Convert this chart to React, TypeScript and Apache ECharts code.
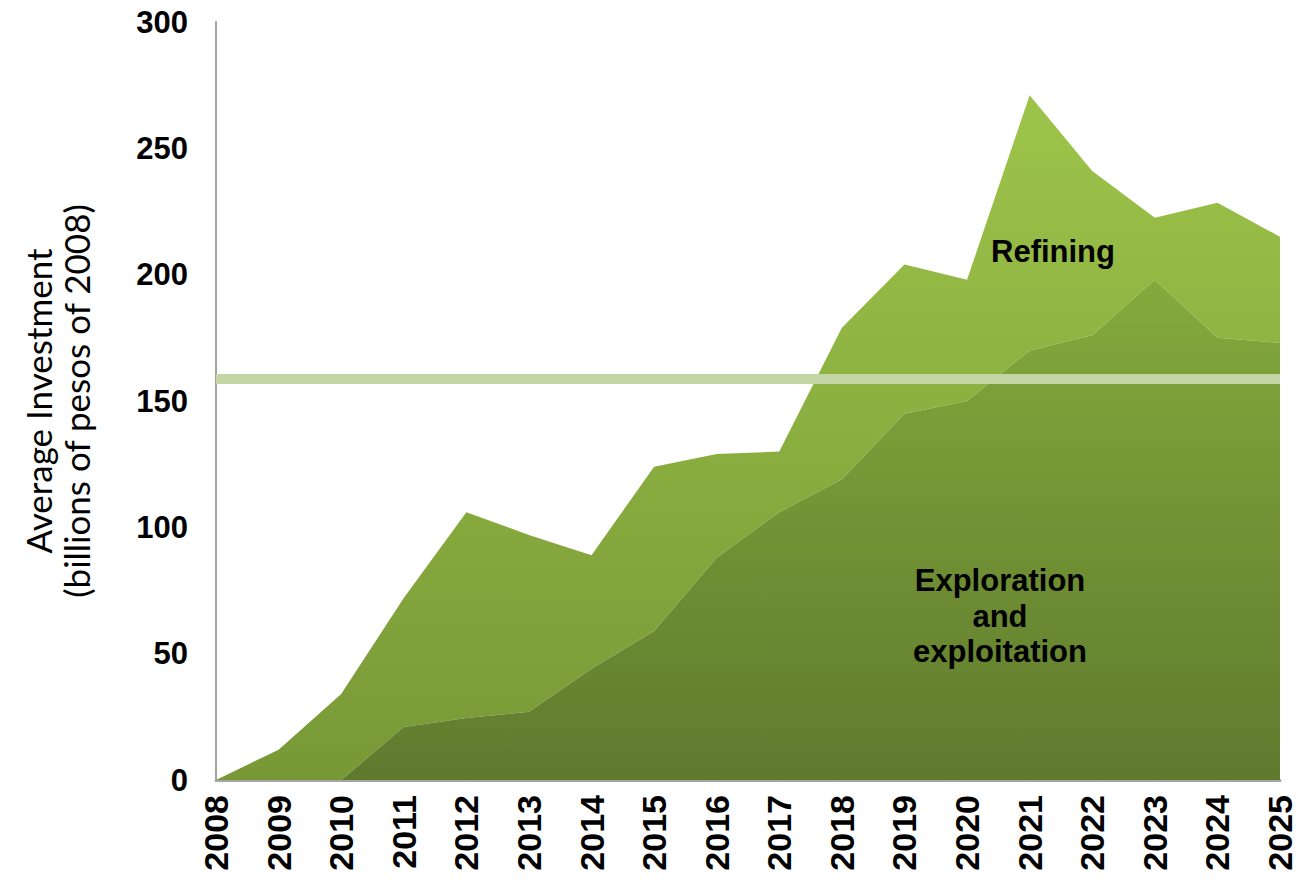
import React, { useEffect, useRef } from "react";
import * as echarts from "echarts";

const years = ["2008","2009","2010","2011","2012","2013","2014","2015","2016","2017","2018","2019","2020","2021","2022","2023","2024","2025"];
const explorationValues = [0, 0, 0, 21, 24.5, 27, 44, 59, 88, 106, 119, 145, 150, 170, 176, 198, 175, 173];
const refiningValues = [0, 12, 34, 51, 81.5, 70, 45, 65, 41, 24, 60, 59, 48, 101, 65, 24.5, 53.5, 42];
const averageInvestment = 159;
const yTicks = { min: 0, max: 300, interval: 50 };

const labelFont = '"Liberation Sans", Arial, sans-serif';

export default function App() {
  const ref = useRef<HTMLDivElement>(null);
  useEffect(() => {
    if (!ref.current) return;
    const chart = echarts.init(ref.current, null, { renderer: "svg" });
    chart.setOption({
      animation: false,
      backgroundColor: "#ffffff",
      grid: { left: 216, top: 22, width: 1064, height: 758, containLabel: false },
      xAxis: {
        type: "category",
        data: years,
        boundaryGap: false,
        axisLine: { show: true, lineStyle: { color: "#a6a6a6", width: 3 } },
        axisTick: { show: false },
        axisLabel: {
          interval: 0,
          rotate: 90,
          margin: 15,
          color: "#000",
          fontFamily: labelFont,
          fontWeight: "bold",
          fontSize: 34,
        },
        splitLine: { show: false },
      },
      yAxis: {
        type: "value",
        min: yTicks.min,
        max: yTicks.max,
        interval: yTicks.interval,
        name: "Average Investment\n(billions of pesos of 2008)",
        nameLocation: "middle",
        nameRotate: 90,
        nameGap: 121,
        nameTextStyle: {
          fontFamily: "Lato, 'Open Sans', sans-serif",
          fontSize: 35,
          lineHeight: 38,
          color: "#000",
        },
        axisLine: { show: true, lineStyle: { color: "#a0a0a0", width: 2 } },
        axisTick: { show: false },
        splitLine: { show: false },
        axisLabel: {
          margin: 28,
          color: "#000",
          fontFamily: labelFont,
          fontWeight: "bold",
          fontSize: 31,
        },
      },
      series: [
        {
          name: "Exploration and exploitation",
          type: "line",
          stack: "investment",
          data: explorationValues,
          symbol: "none",
          lineStyle: { width: 0 },
          areaStyle: {
            opacity: 1,
            color: {
              type: "linear", x: 0, y: 279, x2: 0, y2: 780, global: true,
              colorStops: [
                { offset: 0, color: "#84aa3c" },
                { offset: 1, color: "#607a2e" },
              ],
            },
          },
          z: 3,
        },
        {
          name: "Refining",
          type: "line",
          stack: "investment",
          data: refiningValues,
          symbol: "none",
          lineStyle: { width: 0 },
          areaStyle: {
            opacity: 1,
            color: {
              type: "linear", x: 0, y: 22, x2: 0, y2: 780, global: true,
              colorStops: [
                { offset: 0, color: "#a1c94c" },
                { offset: 1, color: "#789836" },
              ],
            },
          },
          markLine: {
            silent: true,
            symbol: ["none", "none"],
            label: { show: false },
            lineStyle: { color: "#c3d5a5", width: 10, type: "solid" },
            data: [{ yAxis: averageInvestment }],
          },
          z: 2,
        },
      ],
      graphic: [
        {
          type: "text",
          left: 991,
          top: 236,
          style: {
            text: "Refining",
            fontFamily: labelFont,
            fontWeight: "bold",
            fontSize: 31,
            fill: "#000",
          },
          z: 10,
        },
        {
          type: "text",
          x: 1000,
          y: 563,
          style: {
            text: "Exploration\nand\nexploitation",
            align: "center",
            fontFamily: labelFont,
            fontWeight: "bold",
            fontSize: 31,
            lineHeight: 35.5,
            fill: "#000",
          },
          z: 10,
        },
      ],
    });
    return () => chart.dispose();
  }, []);
  return (
    <div
      ref={ref}
      style={{ position: "absolute", left: 0, top: 0, width: 1299, height: 884 }}
    />
  );
}
